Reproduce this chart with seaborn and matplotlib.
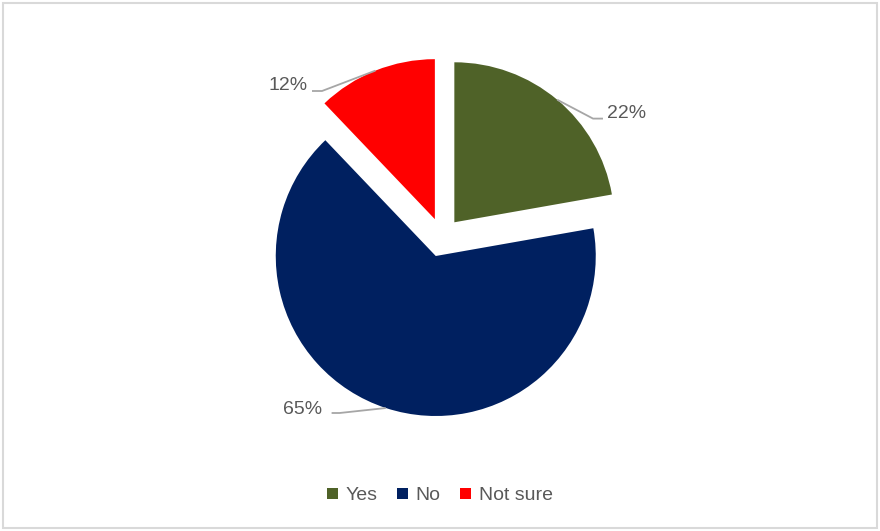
import numpy as np
import matplotlib
matplotlib.use("Agg")
import matplotlib.pyplot as plt
import seaborn as sns
from matplotlib.patches import Patch, Rectangle

categories = ["Yes", "No", "Not sure"]
values = [22, 65, 12]
labels = ["22%", "65%", "12%"]
colors = ["#4F6228", "#002060", "#FF0000"]

# label layout (pie-radius units relative to pie centre): elbow, line end, text anchor, ha
label_layout = [
    ((0.944, 0.74), (1.006, 0.74), (1.03, 0.775), "left"),
    ((-0.64, -1.10), (-0.69, -1.10), (-0.75, -1.08), "right"),
    ((-0.75, 0.9125), (-0.8125, 0.9125), (-0.8375, 0.95), "right"),
]

sns.set_theme(style="white")
plt.rcParams["font.family"] = ["Liberation Sans", "DejaVu Sans"]

W, H = 880, 531
fig = plt.figure(figsize=(W / 100, H / 100), dpi=100)
cx, cy, R = 442, 237, 160
half = 200
ax = fig.add_axes([(cx - half) / W, (H - cy - half) / H, 2 * half / W, 2 * half / H])
ax.set_xlim(-half / R, half / R)
ax.set_ylim(-half / R, half / R)
ax.set_aspect("equal")
ax.axis("off")

wedges, _ = ax.pie(values, colors=colors, startangle=90, counterclock=False,
                   explode=[0.12, 0.125, 0.12], radius=1,
                   wedgeprops=dict(linewidth=0))
ax.set_xlim(-half / R, half / R)
ax.set_ylim(-half / R, half / R)

for w, lab, (elbow, end, txt, ha) in zip(wedges, labels, label_layout):
    mid = np.deg2rad((w.theta1 + w.theta2) / 2)
    px = w.center[0] + w.r * np.cos(mid)
    py = w.center[1] + w.r * np.sin(mid)
    ax.plot([px, elbow[0], end[0]], [py, elbow[1], end[1]], color="#A6A6A6",
            lw=1.3, solid_capstyle="butt", clip_on=False)
    ax.text(txt[0], txt[1], lab, ha=ha, va="center", fontsize=14, color="#595959")

handles = [Patch(facecolor=c, edgecolor="none") for c in colors]
fig.legend(handles, categories, loc="center", bbox_to_anchor=(0.5, 1 - 496 / H),
           ncol=3, frameon=False, fontsize=14, handlelength=0.55, handleheight=0.55,
           handletextpad=0.4, columnspacing=1.0, labelcolor="#595959")

fig.patches.append(Rectangle((3 / W, 3 / H), (W - 6) / W, (H - 6) / H,
                             transform=fig.transFigure, fill=False,
                             edgecolor="#D9D9D9", lw=1.5))

fig.savefig("out.png", dpi=100, facecolor="white")
